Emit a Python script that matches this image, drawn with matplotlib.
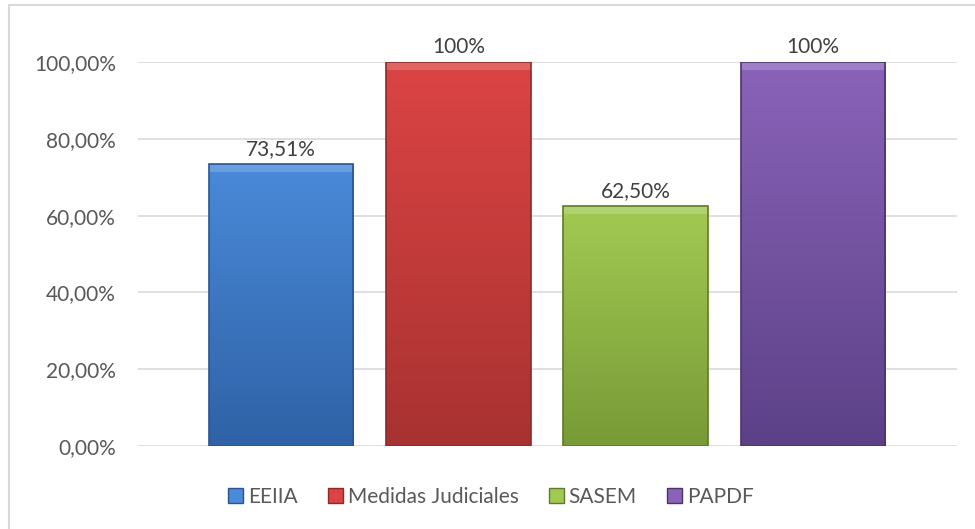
import numpy as np
import matplotlib
matplotlib.use("Agg")
import matplotlib.pyplot as plt
from matplotlib.colors import LinearSegmentedColormap
from matplotlib.patches import Rectangle

categories = ["EEIIA", "Medidas Judiciales", "SASEM", "PAPDF"]
values = [73.51, 100, 62.50, 100]
value_labels = ["73,51%", "100%", "62,50%", "100%"]
y_ticks = [0, 20, 40, 60, 80, 100]
y_tick_labels = ["0,00%", "20,00%", "40,00%", "60,00%", "80,00%", "100,00%"]

# top colour, bottom colour per bar
top_colors = ["#4a8ad9", "#dc4444", "#a2ca52", "#8a63b9"]
bottom_colors = ["#2f62a6", "#a83231", "#789a37", "#5c4187"]
edge_colors = ["#2a5590", "#8c2a2a", "#5f7a2a", "#4a346e"]

plt.rcParams['font.family'] = ['Lato', 'DejaVu Sans']

fig = plt.figure(figsize=(9.75, 5.29), dpi=100)
ax = fig.add_axes([138 / 975, 1 - 446 / 529, (957 - 138) / 975, (446 - 62) / 529])

# figure border (only left/top visible in the reference)
fig.patches.append(Rectangle((9 / 975, -0.05), 1.2, (529 - 5) / 529 + 0.05,
                             transform=fig.transFigure, fill=False,
                             edgecolor="#d9d9d9", linewidth=1.5))

x = np.arange(len(categories))
width = 0.815
ax.set_xlim(-0.808, 3.814)
ax.set_ylim(0, 100)

for t in y_ticks:
    ax.axhline(t, color="#d9d9d9", linewidth=1.2, zorder=0)

grad = np.linspace(1, 0, 256).reshape(-1, 1)
for i, v in enumerate(values):
    cmap = LinearSegmentedColormap.from_list("g%d" % i, [bottom_colors[i], top_colors[i]])
    rect = Rectangle((x[i] - width / 2, 0), width, v, facecolor="none",
                     edgecolor=edge_colors[i], linewidth=1.2, zorder=3)
    ax.add_patch(rect)
    im = ax.imshow(grad, extent=(x[i] - width / 2, x[i] + width / 2, 0, v),
                   aspect="auto", cmap=cmap, vmin=0, vmax=1, zorder=2)
    im.set_clip_path(rect)
    # light bevel along the top
    ax.add_patch(Rectangle((x[i] - width / 2, v - 2.2), width, 2.2,
                           facecolor="white", alpha=0.18, edgecolor="none", zorder=2.5))
    ax.text(x[i], v + 1.2, value_labels[i], ha="center", va="bottom",
            fontsize=15, color="#404040")

ax.set_yticks(y_ticks)
ax.set_yticklabels(y_tick_labels, fontsize=15, color="#595959")
ax.set_xticks([])
ax.tick_params(axis="y", length=0, pad=16)
for s in ax.spines.values():
    s.set_visible(False)

handles = [Rectangle((0, 0), 1, 1, facecolor=top_colors[i], edgecolor=edge_colors[i])
           for i in range(len(categories))]
fig.legend(handles, categories, loc="center", bbox_to_anchor=(491 / 975, 1 - 497 / 529),
           ncol=4, frameon=False, fontsize=15, handlelength=0.7, handleheight=0.7,
           handletextpad=0.25, columnspacing=1.45, labelcolor="#595959")

fig.savefig("out.png", dpi=100)
